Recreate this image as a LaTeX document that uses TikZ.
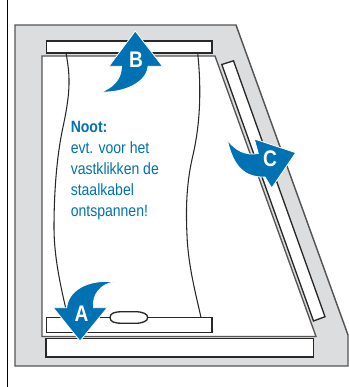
\documentclass[tikz,border=0pt]{standalone}
\usepackage{fontspec}
\setmainfont{Liberation Sans}
\newfontfamily\nootfont[FakeStretch=0.86]{Liberation Sans}
\newfontfamily\letterfont[FakeStretch=0.85]{Liberation Sans}
\usepackage{xcolor}
\definecolor{BL}{RGB}{0,113,178}
\definecolor{LGr}{RGB}{220,221,222}
\definecolor{DG}{RGB}{40,40,40}
\definecolor{MG}{RGB}{85,85,85}

\begin{document}
\begin{tikzpicture}[
  x=0.0265cm, y=-0.0265cm,
  frameline/.style={draw=MG, line width=1.1pt, fill=LGr, line join=miter},
  bar/.style={draw=DG, line width=1pt, fill=white},
  cable/.style={draw=DG, line width=0.8pt},
  pijl/.style={fill=BL, draw=white, line width=0.6pt, line join=miter},
  letter/.style={font=\letterfont\bfseries\fontsize{17}{17}\selectfont, text=white, inner sep=0pt},
  noot/.style={font=\nootfont\fontsize{12.3}{15.8}\selectfont, text=BL, align=left, anchor=north west, inner sep=0pt}
]
\useasboundingbox (0,0) rectangle (349,387);

% wall line and frame
\draw[draw=black, line width=1.3pt] (7.5,0)--(7.5,387);
\draw[frameline] (15,25)--(236,25)--(348,335)--(348,366)--(15,366)--cycle;

% window
\draw[bar, draw=MG] (42,56)--(215,56)--(316,336.5)--(42,336.5)--cycle;

% rails
\draw[bar] (46.5,41) rectangle (212,53);
\draw[bar] (221.8,64.5)--(233.5,60.8)--(325,316.7)--(313.5,321)--cycle;
\draw[bar] (46.5,317.5) rectangle (212,332.5);
\draw[bar] (46,338.5) rectangle (313.5,357);
\draw[bar] (110,317.5) .. controls (110,313) and (115,311.7) .. (122,311.7)
  -- (135,311.7) .. controls (143,311.7) and (147.7,314) .. (147.7,317.5)
  .. controls (147.7,321) and (143,323.3) .. (135,323.3)
  -- (122,323.3) .. controls (115,323.3) and (110,322) .. (110,317.5) -- cycle;

% cables
\draw[cable] (66,53) .. controls (70,75) and (71,90) .. (63,127)
  .. controls (57,155) and (54,190) .. (54,228)
  .. controls (54,255) and (60,285) .. (68,317.5);
\draw[cable] (197.7,53) .. controls (201,85) and (201,120) .. (193,155)
  .. controls (187,180) and (185.5,205) .. (187,235)
  .. controls (188,265) and (196,295) .. (201,317.5);

% arrows
\fill[pijl] (135.3,31)--(162.5,66.3)--(148,66.3) .. controls (147,82) and (125,93) .. (101,92)
  .. controls (112,88) and (121.5,80) .. (121.5,66.3)--(109,66.3)--cycle;
\fill[pijl] (80,341)--(53.3,307.7)--(66.7,307.7) .. controls (68,292) and (85,279) .. (115,281.7)
  .. controls (100,284) and (92,295) .. (93.5,307.7)--(107.3,307.7)--cycle;
\fill[pijl] (295.7,152.7)--(254.3,139)--(258.3,153.5) .. controls (245,156) and (235,150) .. (227.3,140)
  .. controls (232,160) and (240,178) .. (265,177)--(271.7,188)--cycle;

\node[letter] (B) at (136,60) {B};
\node[letter] (A) at (81.5,314) {A};
\node[letter] (C) at (270,159) {C};

\node[noot] (note) at (70.5,121.5) {\textbf{Noot:}\\evt. voor het\\vastklikken de\\staalkabel\\ontspannen!};
\end{tikzpicture}
\end{document}
